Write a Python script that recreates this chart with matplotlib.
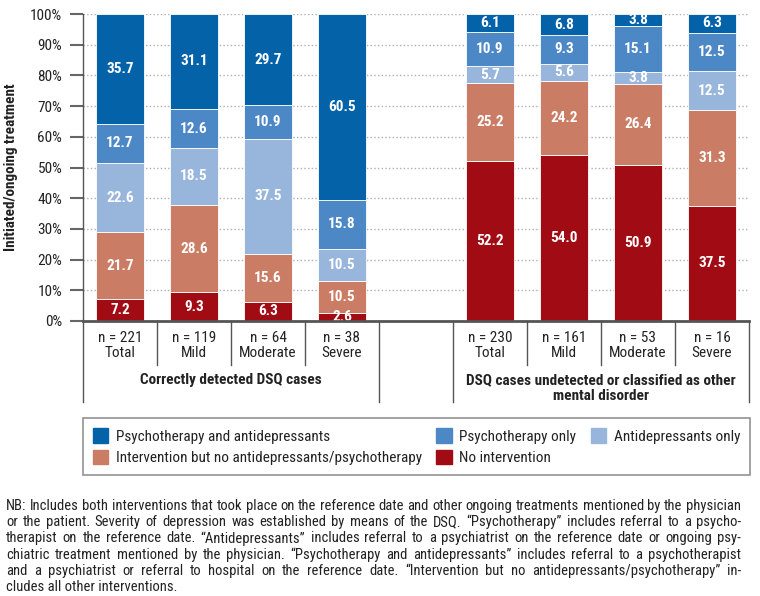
import numpy as np
import matplotlib.pyplot as plt
from matplotlib.patches import Patch

plt.rcParams['font.family'] = ['Roboto Condensed', 'DejaVu Sans']
plt.rcParams['font.stretch'] = 'condensed'

# Positions des barres (deux groupes de quatre)
positions = [0, 1, 2, 3, 5, 6, 7, 8]
effectifs = [221, 119, 64, 38, 230, 161, 53, 16]
severite = ['Total', 'Mild', 'Moderate', 'Severe', 'Total', 'Mild', 'Moderate', 'Severe']

# Valeurs en % (du bas vers le haut)
no_intervention = [7.2, 9.3, 6.3, 2.6, 52.2, 54.0, 50.9, 37.5]
intervention_autre = [21.7, 28.6, 15.6, 10.5, 25.2, 24.2, 26.4, 31.3]
antidepresseurs = [22.6, 18.5, 37.5, 10.5, 5.7, 5.6, 3.8, 12.5]
psychotherapie = [12.7, 12.6, 10.9, 15.8, 10.9, 9.3, 15.1, 12.5]
psy_et_antidep = [35.7, 31.1, 29.7, 60.5, 6.1, 6.8, 3.8, 6.3]

series = [
    ('No intervention', no_intervention, '#A00B14'),
    ('Intervention but no antidepressants/psychotherapy', intervention_autre, '#CB7C64'),
    ('Antidepressants only', antidepresseurs, '#98B5DB'),
    ('Psychotherapy only', psychotherapie, '#4C87C6'),
    ('Psychotherapy and antidepressants', psy_et_antidep, '#0462A9'),
]

groupes = ['Correctly detected DSQ cases',
           'DSQ cases undetected or classified as other\nmental disorder']

gris = '#555555'
texte = '#222222'

fig = plt.figure(figsize=(7.6, 5.96), dpi=100)
ax = fig.add_axes([83 / 760, 1 - 321 / 596, 666 / 760, 307 / 596])

bas = np.zeros(len(positions))
for nom, valeurs, couleur in series:
    ax.bar(positions, valeurs, bottom=bas, width=0.65, color=couleur,
           edgecolor='white', linewidth=0.6, zorder=3, label=nom)
    for x, b, v in zip(positions, bas, valeurs):
        ax.text(x, b + v / 2, f'{v:.1f}', ha='center', va='center',
                color='white', fontsize=11, fontweight='bold', zorder=4)
    bas += np.array(valeurs)

# Axes
ax.set_xlim(-0.5, 8.5)
ax.set_ylim(0, 100)
ax.set_yticks(np.arange(0, 101, 10))
ax.set_yticklabels([f'{v}%' for v in range(0, 101, 10)], fontsize=11, color=texte)
ax.tick_params(axis='y', direction='out', length=9.5, width=1.5, color='#666666', pad=5.5)
ax.set_xticks(positions)
ax.set_xticklabels([f'n = {n}\n{s}' for n, s in zip(effectifs, severite)],
                   fontsize=11, linespacing=1.15, color=texte)
ax.tick_params(axis='x', length=0, pad=7)
ax.yaxis.grid(True, linestyle=':', color='#b0b0b0', linewidth=1, zorder=0)
ax.set_axisbelow(True)
for cote in ['top', 'right']:
    ax.spines[cote].set_visible(False)
ax.spines['left'].set_color(gris)
ax.spines['left'].set_linewidth(1)
ax.spines['bottom'].set_color(gris)
ax.spines['bottom'].set_linewidth(2)
ax.spines['bottom'].set_zorder(5)

ax.set_ylabel('Initiated/ongoing treatment', fontsize=11, fontweight='bold', color=texte)
ax.yaxis.set_label_coords(-0.097, 0.5)

# Séparateurs sous l'axe
for x in [-0.5, 3.5, 4.5, 8.5]:
    ax.axvline(x, ymin=-0.264, ymax=0, color=gris, linewidth=1, clip_on=False)
for x in [0.5, 1.5, 2.5, 5.5, 6.5, 7.5]:
    ax.axvline(x, ymin=-0.143, ymax=0, color=gris, linewidth=1, clip_on=False)

# Noms des groupes
ax.text(1.5, -0.171, groupes[0], transform=ax.get_xaxis_transform(),
        ha='center', va='top', fontsize=11, fontweight='bold', color=texte)
ax.text(6.5, -0.171, groupes[1], transform=ax.get_xaxis_transform(),
        ha='center', va='top', fontsize=11, fontweight='bold', linespacing=1.1, color=texte)

# Légende
handles = {nom: Patch(color=c) for nom, _, c in series}
ordre = ['Psychotherapy and antidepressants',
         'Intervention but no antidepressants/psychotherapy',
         'Psychotherapy only', 'No intervention', 'Antidepressants only']
leg = fig.legend([handles[n] for n in ordre], ordre, ncol=3, mode='expand',
                 loc='lower left', borderaxespad=0,
                 bbox_to_anchor=(83 / 760, 1 - 475 / 596, 667 / 760, 56 / 596),
                 fontsize=11, handlelength=1.0, handleheight=1.1,
                 handletextpad=0.5, labelspacing=0.38, borderpad=0.65,
                 fancybox=False, frameon=True)
leg.get_frame().set_edgecolor('#777777')
leg.get_frame().set_linewidth(1.2)
for t in leg.get_texts():
    t.set_color(texte)

# Note (texte justifié)
note = [
    'NB: Includes both interventions that took place on the reference date and other ongoing treatments mentioned by the physician',
    'or the patient. Severity of depression was established by means of the DSQ. “Psychotherapy” includes referral to a psycho-',
    'therapist on the reference date. “Antidepressants” includes referral to a psychiatrist on the reference date or ongoing psy-',
    'chiatric treatment mentioned by the physician. “Psychotherapy and antidepressants” includes referral to a psychotherapist',
    'and a psychiatrist or referral to hospital on the reference date. “Intervention but no antidepressants/psychotherapy” in-',
    'cludes all other interventions.',
]
x_gauche, x_droite = 6, 741
renderer = fig.canvas.get_renderer()
for i, ligne in enumerate(note):
    y = 1 - (506 + i * 16.2) / 596
    if i == len(note) - 1:
        fig.text(x_gauche / 760, y, ligne, ha='left', va='center', fontsize=10.5, color=texte)
        continue
    mots = ligne.split(' ')
    objets = [fig.text(0, y, m, ha='left', va='center', fontsize=10.5, color=texte) for m in mots]
    largeurs = [o.get_window_extent(renderer).width for o in objets]
    espace = (x_droite - x_gauche - sum(largeurs)) / (len(mots) - 1)
    xp = x_gauche
    for o, w in zip(objets, largeurs):
        o.set_x(xp / 760)
        xp += w + espace

fig.savefig('out.png', dpi=100)
